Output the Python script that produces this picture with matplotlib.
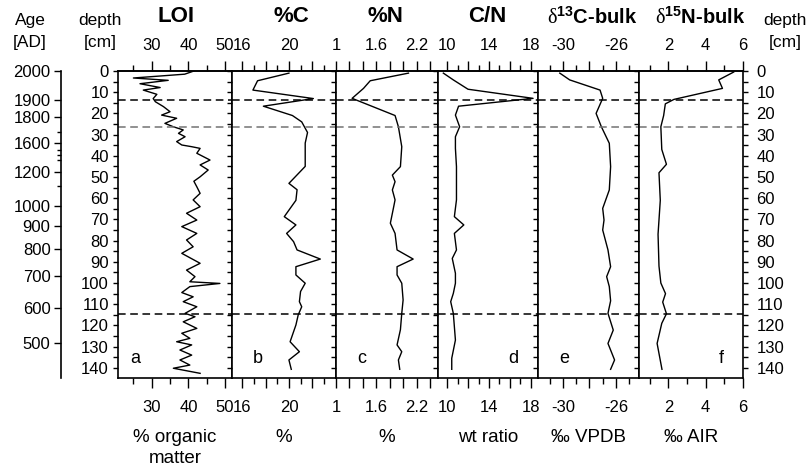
import matplotlib
matplotlib.use("Agg")
import matplotlib.pyplot as plt
from matplotlib.ticker import FixedLocator, FixedFormatter, MultipleLocator

plt.rcParams['font.family'] = ['Liberation Sans', 'DejaVu Sans']
plt.rcParams['mathtext.fontset'] = 'custom'
plt.rcParams['mathtext.rm'] = 'Liberation Serif'
plt.rcParams['mathtext.bf'] = 'Liberation Sans:bold'

# ---- data (depth in cm) ----
loi_depth = [0, 1.5, 3.3, 4.4, 6, 7.8, 9, 11, 13, 14.5, 16.8, 19.2, 20.8, 22.3, 24.7, 26.3,
             27.8, 29.4, 31, 33.3, 34.9, 35.7, 36.5, 38.8, 42, 44.3, 46.7, 49.9, 52, 54.6,
             57.7, 60.8, 64, 67.1, 70.3, 73.4, 76.6, 79.7, 82.9, 86, 90.7, 93.9, 97, 99.4,
             100.2, 101.7, 104.5, 106.5, 108.8, 111.2, 114.3, 115.9, 118.3, 121.4, 123.7,
             126.1, 127.7, 129.2, 131.6, 134, 136.3, 138.7, 140.2, 142.6]
loi = [41.5, 39, 25, 34.5, 26.8, 32.3, 27.7, 31.4, 30.4, 31, 33.2, 35, 32.7, 36.8, 33.6, 35.9,
       38.6, 37.3, 39.1, 36.8, 38.2, 40.9, 43.2, 42.3, 45.9, 43.2, 45.4, 43.2, 41.5, 42.3,
       43.2, 41.3, 43.2, 39.5, 42.3, 38.2, 42.3, 39.5, 41.3, 38.2, 43.2, 39.5, 41.8, 40.4,
       48.6, 40.4, 38.2, 41.3, 38.6, 42.3, 39.1, 41.8, 38.6, 42.3, 38.2,
       40.4, 36.8, 40.9, 37.7, 40.9, 37.7, 40.4, 35.9, 43.2]

c_depth = [1, 4.6, 9, 13, 16.6, 21, 24, 29, 34, 45, 53, 56, 61, 68.7, 72.6, 76.6, 80.5, 84.4,
           88.7, 92.3, 96.2, 100.1, 104, 108.8, 111.2, 115, 119.8, 127.7, 132.4, 136.3, 140.7]
pct_c = [20.0, 17.3, 16.9, 22.1, 17.8, 20.3, 21.1, 21.6, 21.4, 21.4, 20.0, 20.7, 20.6, 19.6,
         20.6, 19.8, 20.4, 20.7, 22.7, 20.6, 20.6, 21.4, 21.0, 20.9, 21.1, 20.8, 20.6, 20.1,
         20.9, 20.0, 20.2]

n_depth = [1, 4.6, 8.2, 12.9, 21, 26.3, 35.7, 45.1, 49.1, 52.2, 56.1, 60.8, 64, 71.8, 76.6,
           84.4, 88.7, 92.3, 96.2, 100.1, 108, 114.3, 122, 129.2, 132.4, 136.3, 140.7]
pct_n = [2.08, 1.51, 1.41, 1.24, 1.88, 1.93, 1.98, 1.96, 1.84, 1.88, 1.84, 1.88, 1.86, 1.81,
         1.88, 1.91, 2.15, 1.91, 1.91, 1.98, 2.0, 1.98, 1.96, 1.91, 1.98, 1.93, 1.95]

cn_depth = [1, 4.2, 8.6, 12.9, 16.6, 20.8, 26.3, 31, 36.5, 45.1, 60.8, 68.7, 72.6, 76.6, 84.4,
            88.4, 95.4, 100.1, 104.9, 108.8, 114.3, 126.9, 135.5, 140.7]
cn_ratio = [9.65, 10.6, 12.0, 18.2, 11.1, 10.8, 11.2, 10.8, 10.8, 10.9, 10.9, 10.7, 11.6, 10.7,
            10.9, 10.5, 10.8, 10.8, 10.6, 10.35, 10.6, 10.8, 10.45, 10.45]

d13c_depth = [1, 4.2, 9, 12.9, 20, 26.3, 34.1, 45.1, 56.1, 64.8, 70.3, 75, 84.4, 92.3, 97,
              101.7, 108.4, 114.3, 122.2, 128.5, 136.3, 140.7]
d13c = [-30.25, -29.5, -27.2, -27.0, -27.5, -27.1, -26.5, -26.4, -26.5, -27.0, -26.9, -27.0,
        -26.6, -26.4, -26.7, -26.5, -26.4, -26.6, -26.2, -26.6, -26.1, -26.4]

d15n_depth = [0.5, 4.2, 8.2, 13.4, 15.5, 21, 26.3, 37, 44, 48, 61, 77, 92, 100, 105, 109,
              114.5, 119, 128.5, 140.7]
d15n = [5.5, 4.7, 4.9, 2.3, 1.84, 1.75, 1.6, 1.65, 1.9, 1.5, 1.57, 1.45, 1.5, 1.6, 1.85, 1.7,
        1.9, 1.65, 1.4, 1.66]

# age-depth tie points for the left age scale
age_labels = [2000, 1900, 1800, 1600, 1200, 1000, 900, 800, 700, 600, 500]
age_depth = [0, 13.7, 21.8, 34.1, 47.5, 63.7, 73.1, 84.1, 96.7, 111.7, 128.4]
age_minor_depth = [28.6, 37.3, 39.6, 42.0, 54.2]

# horizontal marker depths
marker_depth = [13.7, 26.3, 114.8]
marker_color = ['black', '0.45', 'black']

titles = ['LOI', '%C', '%N', 'C/N',
          r'$\mathrm{\delta}^{\mathbf{13}}$C-bulk', r'$\mathrm{\delta}^{\mathbf{15}}$N-bulk']
units = ['% organic\nmatter', '%', '%', 'wt ratio', '\u2030 VPDB', '\u2030 AIR']
letters = ['a', 'b', 'c', 'd', 'e', 'f']

panels = [
    dict(x=loi, y=loi_depth, xlim=(20.8, 51.9), major=[30, 40, 50], minor=[25, 35, 45],
         labels={30: '30', 40: '40', 50: '50'}, letter_x=0.15),
    dict(x=pct_c, y=c_depth, xlim=(15.1, 24.05), major=[16, 18, 20, 22], minor=[17, 19, 21, 23],
         labels={16: '16', 20: '20'}, letter_x=0.25),
    dict(x=pct_n, y=n_depth, xlim=(1.0, 2.52), major=[1.0, 1.2, 1.4, 1.6, 1.8, 2.0, 2.2, 2.4],
         minor=[], labels={1.0: '1', 1.6: '1.6', 2.2: '2.2'}, letter_x=0.25),
    dict(x=cn_ratio, y=cn_depth, xlim=(9.14, 18.67), major=[10, 12, 14, 16, 18],
         minor=[11, 13, 15, 17], labels={10: '10', 14: '14', 18: '18'}, letter_x=0.75),
    dict(x=d13c, y=d13c_depth, xlim=(-31.9, -24.25), major=[-30, -28, -26],
         minor=[-31, -29, -27, -25], labels={-30: '-30', -26: '-26'}, letter_x=0.26),
    dict(x=d15n, y=d15n_depth, xlim=(0.43, 6.0), major=[2, 4, 6], minor=[1, 3, 5],
         labels={2: '2', 4: '4', 6: '6'}, letter_x=0.79),
]

W, H = 809, 469
edges = [118, 232, 336, 438, 538, 639, 743]
title_px = [176, 291, 385, 487, 592, 700]
top_px, bot_px = 71, 378
ylim = (144.8, 0)
TICKFS = 12

fig = plt.figure(figsize=(W / 100, H / 100), dpi=100)
fb = 1 - bot_px / H
fh = (bot_px - top_px) / H


def set_xticks(axis, p):
    axis.set_major_locator(FixedLocator(p['major']))
    axis.set_minor_locator(FixedLocator(p['minor']))
    axis.set_major_formatter(FixedFormatter([p['labels'].get(v, '') for v in p['major']]))


for i, p in enumerate(panels):
    ax = fig.add_axes([edges[i] / W, fb, (edges[i + 1] - edges[i]) / W, fh])
    ax.plot(p['x'], p['y'], color='black', lw=1.0)
    ax.set_xlim(p['xlim'])
    ax.set_ylim(ylim)
    for d, c in zip(marker_depth, marker_color):
        ax.axhline(d, color=c, lw=1.1, ls=(0, (5, 3)))
    for s in ax.spines.values():
        s.set_linewidth(1.2)

    # bottom scale
    set_xticks(ax.xaxis, p)
    ax.tick_params(axis='x', which='both', direction='out', width=1.0, labelsize=TICKFS)
    ax.tick_params(axis='x', which='major', length=7, pad=9)
    ax.tick_params(axis='x', which='minor', length=4)

    # top scale (own pad)
    top = ax.secondary_xaxis('top')
    set_xticks(top.xaxis, p)
    top.spines['top'].set_linewidth(1.2)
    top.tick_params(axis='x', which='both', direction='out', width=1.0, labelsize=TICKFS)
    top.tick_params(axis='x', which='major', length=7, pad=6)
    top.tick_params(axis='x', which='minor', length=4)

    ax.yaxis.set_major_locator(MultipleLocator(10))
    ax.yaxis.set_minor_locator(MultipleLocator(5))
    ax.tick_params(axis='y', which='both', direction='out', length=3.6, width=1.0,
                   left=True, right=(i == 5), labelleft=(i == 0), labelright=(i == 5),
                   labelsize=TICKFS)
    ax.tick_params(axis='y', which='major', pad=3 if i == 0 else 6)

    ax.text(p['letter_x'], 135.5, letters[i], transform=ax.get_yaxis_transform(),
            fontsize=13, ha='center', va='center')

    fig.text(title_px[i] / W, 1 - 17 / H, titles[i], fontsize=16 if i < 4 else 14.5,
             fontweight='bold', ha='center', va='center')
    cx = (edges[i] + edges[i + 1]) / 2 / W
    for k, line in enumerate(units[i].split('\n')):
        fig.text(cx, 1 - (437 + 21 * k) / H, line, fontsize=13.5, ha='center', va='center')

# age scale on the far left
ax_age = fig.add_axes([61 / W, fb, 0.001, fh])
ax_age.set_ylim(ylim)
ax_age.set_xticks([])
for k in ['top', 'right', 'bottom']:
    ax_age.spines[k].set_visible(False)
ax_age.spines['left'].set_linewidth(1.2)
ax_age.patch.set_visible(False)
ax_age.yaxis.set_major_locator(FixedLocator(age_depth))
ax_age.yaxis.set_major_formatter(FixedFormatter([str(a) for a in age_labels]))
ax_age.yaxis.set_minor_locator(FixedLocator(age_minor_depth))
ax_age.tick_params(axis='y', which='major', direction='out', length=5, width=1.0,
                   labelsize=TICKFS, pad=2.5)
ax_age.tick_params(axis='y', which='minor', direction='out', length=3, width=1.0)

# column headers
HFS = 12.5
fig.text(30 / W, 1 - 20 / H, 'Age', fontsize=HFS, ha='center', va='center')
fig.text(30 / W, 1 - 42 / H, '[AD]', fontsize=HFS, ha='center', va='center')
fig.text(100 / W, 1 - 20 / H, 'depth', fontsize=HFS, ha='center', va='center')
fig.text(100 / W, 1 - 42 / H, '[cm]', fontsize=HFS, ha='center', va='center')
fig.text(785 / W, 1 - 21 / H, 'depth', fontsize=HFS, ha='center', va='center')
fig.text(785 / W, 1 - 43 / H, '[cm]', fontsize=HFS, ha='center', va='center')

fig.savefig('out.png', dpi=100)
